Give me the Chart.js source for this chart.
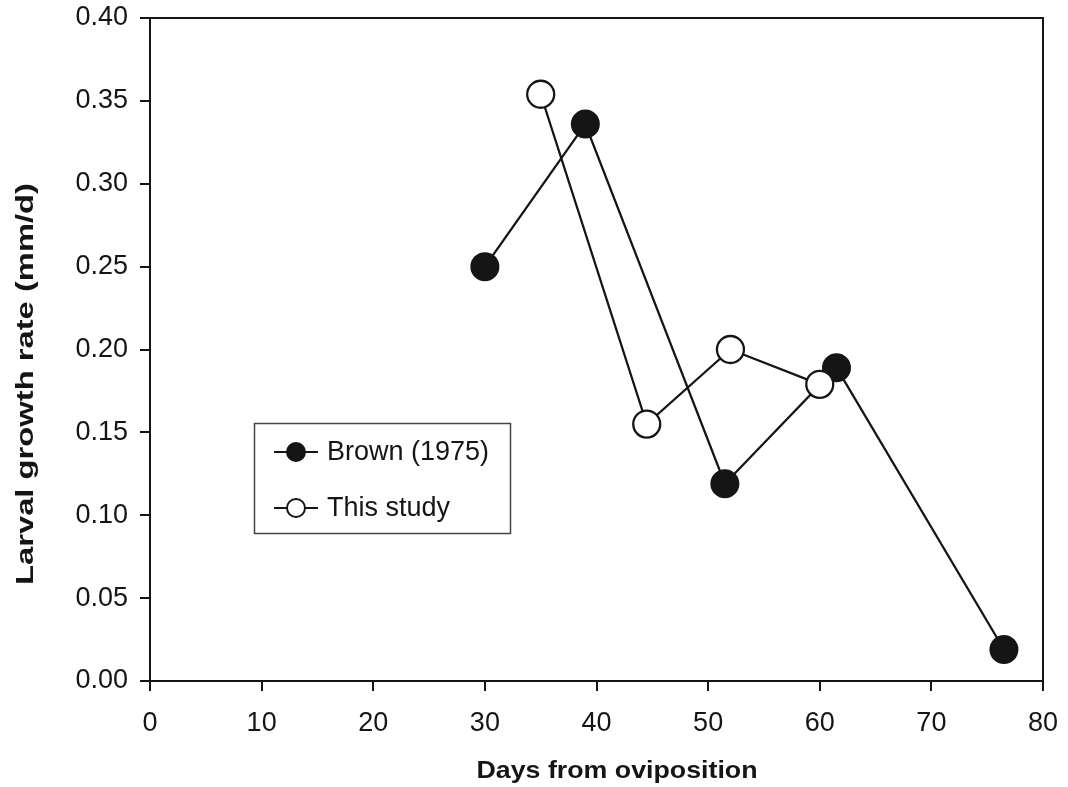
<!DOCTYPE html>
<html>
<head>
<meta charset="utf-8">
<script src="https://cdn.jsdelivr.net/npm/chart.js@4"></script>
<style>
  html, body { margin: 0; padding: 0; background: #fff; }
  #wrap { width: 1068px; height: 787px; }
</style>
</head>
<body>
<div id="wrap"><canvas id="c" width="1068" height="787"></canvas></div>
<script>
// ---- data ----
const brownLabel = "Brown (1975)";
const studyLabel = "This study";
const brownDays = [30, 39, 51.5, 61.5, 76.5];
const brownRate = [0.250, 0.336, 0.119, 0.189, 0.019];
const studyDays = [35, 44.5, 52, 60];
const studyRate = [0.354, 0.155, 0.200, 0.179];
const xTitle = "Days from oviposition";
const yTitle = "Larval growth rate (mm/d)";
const xMin = 0, xMax = 80, xStep = 10;
const yMin = 0, yMax = 0.40, yStep = 0.05;

const INK = '#151515';
const FONT = '"Liberation Sans", Arial, Helvetica, sans-serif';

function pts(xs, ys) { return xs.map((x, i) => ({ x: x, y: ys[i] })); }

const framePlugin = {
  id: 'frame',
  afterDatasetsDraw(chart) {
    const { ctx, chartArea: a } = chart;
    ctx.save();
    ctx.strokeStyle = INK;
    ctx.lineWidth = 2;
    ctx.beginPath();
    ctx.moveTo(a.left, a.top);
    ctx.lineTo(a.right, a.top);
    ctx.lineTo(a.right, a.bottom);
    ctx.stroke();
    ctx.restore();
  }
};

const titlesPlugin = {
  id: 'titles',
  afterDraw(chart) {
    const { ctx } = chart;
    ctx.save();
    ctx.fillStyle = INK;
    ctx.font = 'bold 24px ' + FONT;
    ctx.textAlign = 'center';
    ctx.textBaseline = 'alphabetic';
    // x title
    let w = ctx.measureText(xTitle).width;
    ctx.save();
    ctx.translate(617, 778);
    ctx.scale(281 / w, 1);
    ctx.fillText(xTitle, 0, 0);
    ctx.restore();
    // y title
    w = ctx.measureText(yTitle).width;
    ctx.save();
    ctx.translate(33, 384);
    ctx.rotate(-Math.PI / 2);
    ctx.scale(402 / w, 1);
    ctx.fillText(yTitle, 0, 0);
    ctx.restore();
    ctx.restore();
  }
};

const legendPlugin = {
  id: 'customLegend',
  afterDraw(chart) {
    const { ctx } = chart;
    const bx = 254, by = 423, bw = 256, bh = 110;
    ctx.save();
    ctx.strokeStyle = '#444';
    ctx.lineWidth = 1.5;
    ctx.strokeRect(bx + 0.5, by + 0.5, bw, bh);
    const rows = [
      { label: brownLabel, fill: INK, y: 452 },
      { label: studyLabel, fill: '#fff', y: 508 }
    ];
    rows.forEach(r => {
      ctx.strokeStyle = INK;
      ctx.lineWidth = 2;
      ctx.beginPath();
      ctx.moveTo(274, r.y);
      ctx.lineTo(318, r.y);
      ctx.stroke();
      ctx.beginPath();
      ctx.arc(296, r.y, 9, 0, Math.PI * 2);
      ctx.fillStyle = r.fill;
      ctx.fill();
      ctx.stroke();
      ctx.fillStyle = INK;
      ctx.font = '27px ' + FONT;
      ctx.textAlign = 'left';
      ctx.textBaseline = 'middle';
      ctx.fillText(r.label, 327, r.y + 1);
    });
    ctx.restore();
  }
};

const axisCommon = {
  grid: { display: true, drawOnChartArea: false, drawTicks: true, tickLength: 10, color: INK, lineWidth: 2 },
  border: { display: true, color: INK, width: 2 },
};

new Chart(document.getElementById('c'), {
  type: 'line',
  data: {
    datasets: [
      {
        label: brownLabel,
        data: pts(brownDays, brownRate),
        borderColor: INK,
        borderWidth: 2.3,
        backgroundColor: INK,
        pointBackgroundColor: INK,
        pointBorderColor: INK,
        pointBorderWidth: 2,
        pointRadius: 13.5,
        pointHoverRadius: 13.5,
        tension: 0,
        order: 1
      },
      {
        label: studyLabel,
        data: pts(studyDays, studyRate),
        borderColor: INK,
        borderWidth: 2.3,
        backgroundColor: '#fff',
        pointBackgroundColor: '#fff',
        pointBorderColor: INK,
        pointBorderWidth: 2.3,
        pointRadius: 13.5,
        pointHoverRadius: 13.5,
        tension: 0,
        order: 0
      }
    ]
  },
  options: {
    responsive: false,
    animation: false,
    devicePixelRatio: 1,
    layout: { padding: { left: 0, top: 18, right: 25, bottom: 0 } },
    plugins: {
      legend: { display: false },
      tooltip: { enabled: false }
    },
    scales: {
      x: Object.assign({}, axisCommon, {
        type: 'linear',
        min: xMin, max: xMax,
        ticks: { stepSize: xStep, color: INK, font: { family: FONT, size: 27 }, padding: 16, maxRotation: 0 },
        afterFit(s) { s.height = 106; s.paddingLeft = 0; s.paddingRight = 0; }
      }),
      y: Object.assign({}, axisCommon, {
        type: 'linear',
        min: yMin, max: yMax,
        ticks: { stepSize: yStep, color: INK, font: { family: FONT, size: 27 }, padding: 12,
                 callback: v => Number(v).toFixed(2) },
        afterFit(s) { s.width = 150; s.paddingTop = 0; s.paddingBottom = 0; }
      })
    }
  },
  plugins: [framePlugin, titlesPlugin, legendPlugin]
});
</script>
</body>
</html>
